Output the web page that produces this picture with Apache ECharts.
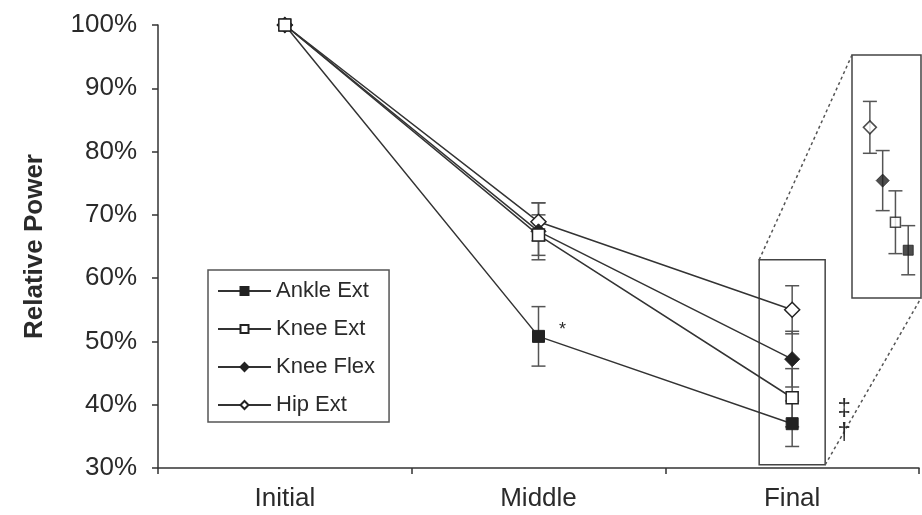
<!DOCTYPE html>
<html>
<head>
<meta charset="utf-8">
<style>
  html, body { margin: 0; padding: 0; background: #fff; }
  #chart { width: 922px; height: 515px; }
</style>
<script src="https://cdn.jsdelivr.net/npm/echarts@6/dist/echarts.min.js"></script>
</head>
<body>
<div id="chart"></div>
<script>
// Time points
var categories = ['Initial', 'Middle', 'Final'];

// Relative power (% of initial) per muscle group
var ankleExt = [100, 50.8, 37.0];
var kneeExt = [100, 66.8, 41.1];
var kneeFlex = [100, 67.4, 47.2];
var hipExt = [100, 68.9, 55.0];

// Standard deviations (no spread at the initial point)
var ankleExtSd = [null, 4.7, 3.6];
var kneeExtSd = [null, 3.2, 4.6];
var kneeFlexSd = [null, 4.5, 4.4];
var hipExtSd = [null, 3.0, 3.8];

// Significance marks
var ankleNote = ['', '*', ''];
var finalMarks = ['\u2021', '\u2020'];

// Y-axis ticks
var yTicks = [30, 40, 50, 60, 70, 80, 90, 100];

var FONT = '"Liberation Sans", Arial, sans-serif';
var INK = '#2a2a2a';
var LINE = '#333';
var BAR = '#555';

var groups = [
  { name: 'Ankle Ext', values: ankleExt, sd: ankleExtSd, symbol: 'rect', size: 12, open: false, note: ankleNote },
  { name: 'Knee Ext', values: kneeExt, sd: kneeExtSd, symbol: 'rect', size: 12, open: true },
  { name: 'Knee Flex', values: kneeFlex, sd: kneeFlexSd, symbol: 'diamond', size: 15, open: false },
  { name: 'Hip Ext', values: hipExt, sd: hipExtSd, symbol: 'diamond', size: 15, open: true }
];
// Drawing order (later on top); legend keeps the order above
var drawOrder = ['Ankle Ext', 'Hip Ext', 'Knee Flex', 'Knee Ext'];
// Left-to-right order inside the magnified final panel
var insetOrder = ['Hip Ext', 'Knee Flex', 'Knee Ext', 'Ankle Ext'];

function byName(n) { return groups.filter(function (g) { return g.name === n; })[0]; }

function errorRenderer(capHalf) {
  return function (params, api) {
    var top = api.coord([api.value(0), api.value(2)]);
    var bot = api.coord([api.value(0), api.value(1)]);
    var st = { stroke: BAR, lineWidth: 1.5 };
    return {
      type: 'group',
      children: [
        { type: 'line', shape: { x1: top[0], y1: top[1], x2: bot[0], y2: bot[1] }, style: st },
        { type: 'line', shape: { x1: top[0] - capHalf, y1: top[1], x2: top[0] + capHalf, y2: top[1] }, style: st },
        { type: 'line', shape: { x1: bot[0] - capHalf, y1: bot[1], x2: bot[0] + capHalf, y2: bot[1] }, style: st }
      ]
    };
  };
}

function symbolStyle(g) {
  return g.open
    ? { color: '#fff', borderColor: '#222', borderWidth: 1.5 }
    : { color: '#222', borderColor: '#222', borderWidth: 1 };
}

var series = [];

// Error bars (main panel)
groups.forEach(function (g) {
  var d = [];
  g.values.forEach(function (v, i) {
    if (g.sd[i] != null) d.push([i, v - g.sd[i], v + g.sd[i]]);
  });
  series.push({
    type: 'custom', name: g.name + ' SD', xAxisIndex: 0, yAxisIndex: 0,
    renderItem: errorRenderer(7), data: d, z: 1, silent: true,
    encode: { x: 0, y: [1, 2] }
  });
});

// Lines with markers (main panel)
drawOrder.forEach(function (n) {
  var g = byName(n);
  var data = g.values.map(function (v, i) {
    if (g.note && g.note[i]) {
      return {
        value: v,
        label: {
          show: true, formatter: g.note[i], position: 'right', distance: 14,
          offset: [0, -6], fontSize: 18, color: INK, fontFamily: FONT
        }
      };
    }
    return v;
  });
  series.push({
    type: 'line', name: g.name, xAxisIndex: 0, yAxisIndex: 0,
    data: data, symbol: g.symbol, symbolSize: g.size, showSymbol: true,
    lineStyle: { color: LINE, width: 1.5 },
    itemStyle: symbolStyle(g), z: 3
  });
});

// Magnified final panel: error bars and markers spread side by side
var last = categories.length - 1;
insetOrder.forEach(function (n, k) {
  var g = byName(n);
  var v = g.values[last], s = g.sd[last];
  series.push({
    type: 'custom', name: g.name + ' final SD', xAxisIndex: 1, yAxisIndex: 1,
    renderItem: errorRenderer(7), data: [[k, v - s, v + s]], z: 1, silent: true,
    encode: { x: 0, y: [1, 2] }
  });
  series.push({
    type: 'scatter', name: g.name + ' final', xAxisIndex: 1, yAxisIndex: 1,
    data: [[k, v]], symbol: g.symbol, symbolSize: g.size - 2,
    itemStyle: symbolStyle(g), z: 3
  });
});

var chart = echarts.init(document.getElementById('chart'), null, { renderer: 'canvas' });

chart.setOption({
  animation: false,
  backgroundColor: '#fff',
  textStyle: { fontFamily: FONT },
  grid: [
    { left: 158, right: 3, top: 25, bottom: 47 },
    { left: 852, top: 55, width: 69, height: 243, show: true,
      borderColor: '#444', borderWidth: 1.5, backgroundColor: '#fff', z: 0 }
  ],
  legend: {
    data: groups.map(function (g) { return g.name; }),
    orient: 'vertical', left: 208, top: 270,
    borderColor: '#555', borderWidth: 1.5, borderRadius: 0,
    padding: [10, 14, 6, 9],
    itemWidth: 53, itemHeight: 10, itemGap: 16,
    textStyle: { fontSize: 22, color: INK, fontFamily: FONT, lineHeight: 22 },
    selectedMode: false
  },
  xAxis: [
    {
      type: 'category', gridIndex: 0, data: categories, boundaryGap: true,
      axisLine: { lineStyle: { color: LINE, width: 1.5 } },
      axisTick: { show: true, length: 6, lineStyle: { color: LINE, width: 1.5 } },
      axisLabel: { fontSize: 26, color: INK, margin: 18, fontFamily: FONT },
      splitLine: { show: false }
    },
    { type: 'value', gridIndex: 1, min: -1.4, max: 4, show: false }
  ],
  yAxis: [
    {
      type: 'value', gridIndex: 0, min: yTicks[0], max: yTicks[yTicks.length - 1], interval: 10,
      name: 'Relative Power', nameLocation: 'middle', nameRotate: 90, nameGap: 110,
      nameTextStyle: { fontSize: 26, fontWeight: 'bold', color: INK, fontFamily: FONT },
      axisLine: { show: true, lineStyle: { color: LINE, width: 1.5 } },
      axisTick: { show: true, length: 6, lineStyle: { color: LINE, width: 1.5 } },
      axisLabel: { fontSize: 26, color: INK, margin: 21, formatter: '{value}%', fontFamily: FONT },
      splitLine: { show: false }
    },
    { type: 'value', gridIndex: 1, min: 30, max: 65.6, show: false }
  ],
  series: series
});

// Box around the final cluster, leader lines to the magnified panel, and marks
(function () {
  var topLeft = chart.convertToPixel({ xAxisIndex: 0, yAxisIndex: 0 }, [last, 62.9]);
  var botRight = chart.convertToPixel({ xAxisIndex: 0, yAxisIndex: 0 }, [last, 30.5]);
  var halfW = 33;
  var bx0 = topLeft[0] - halfW, by0 = topLeft[1];
  var bx1 = botRight[0] + halfW, by1 = botRight[1];

  var inTL = chart.convertToPixel({ xAxisIndex: 1, yAxisIndex: 1 }, [-1.4, 65.6]);
  var inBR = chart.convertToPixel({ xAxisIndex: 1, yAxisIndex: 1 }, [4, 30]);

  var markA = chart.convertToPixel({ xAxisIndex: 0, yAxisIndex: 0 }, [last, 39.5]);
  var markB = chart.convertToPixel({ xAxisIndex: 0, yAxisIndex: 0 }, [last, 35.6]);
  var dash = { stroke: '#555', lineWidth: 1.5, lineDash: [3, 3] };

  chart.setOption({
    graphic: [
      { type: 'rect', shape: { x: bx0, y: by0, width: bx1 - bx0, height: by1 - by0 },
        style: { fill: null, stroke: '#444', lineWidth: 1.5 }, z: 0, silent: true },
      { type: 'line', shape: { x1: bx0, y1: by0, x2: inTL[0], y2: inTL[1] }, style: dash, silent: true },
      { type: 'line', shape: { x1: bx1, y1: by1, x2: inBR[0], y2: inBR[1] }, style: dash, silent: true },
      { type: 'text', x: markA[0] + 52, y: markA[1],
        style: { text: finalMarks[0], font: '24px ' + FONT, fill: INK, align: 'center', verticalAlign: 'middle' }, silent: true },
      { type: 'text', x: markB[0] + 52, y: markB[1],
        style: { text: finalMarks[1], font: '24px ' + FONT, fill: INK, align: 'center', verticalAlign: 'middle' }, silent: true }
    ]
  });
})();
</script>
</body>
</html>
